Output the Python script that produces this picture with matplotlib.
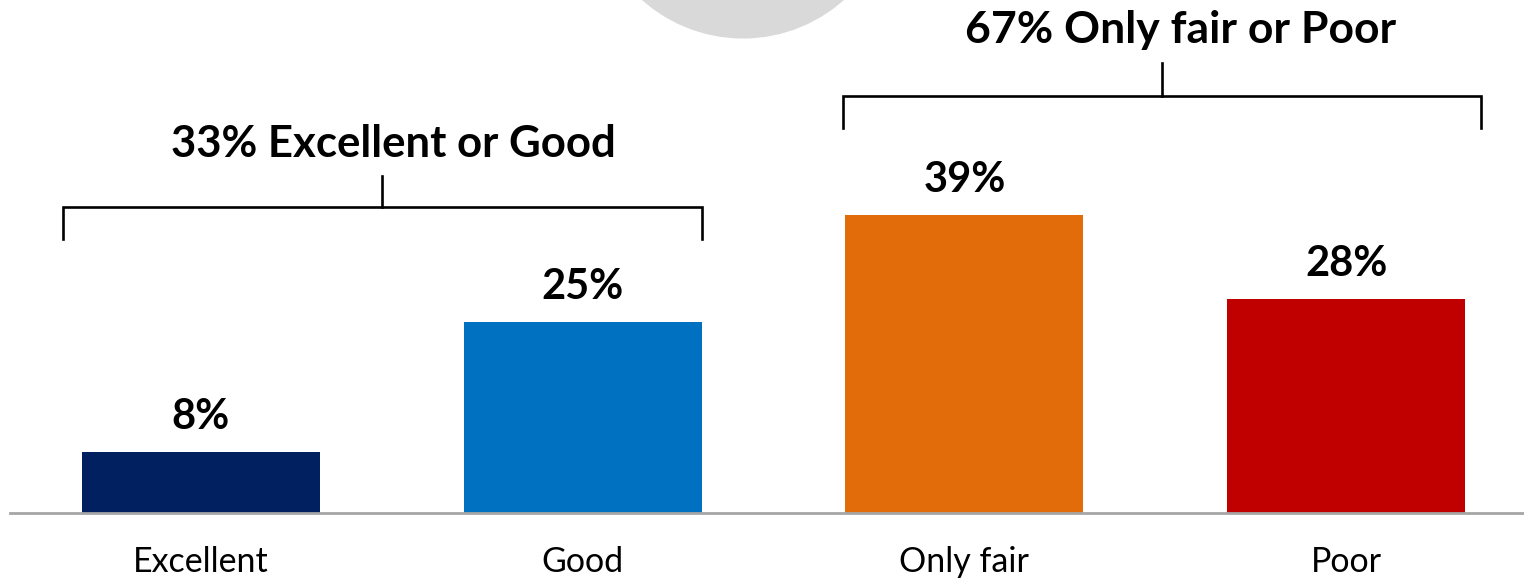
import matplotlib
matplotlib.use("Agg")
import matplotlib.pyplot as plt
from matplotlib.patches import Ellipse

categories = ["Excellent", "Good", "Only fair", "Poor"]
values = [8, 25, 39, 28]
colors = ["#002060", "#0070C0", "#E36C0A", "#C00000"]
group_labels = ["33% Excellent or Good", "67% Only fair or Poor"]

plt.rcParams['font.family'] = ['Lato', 'DejaVu Sans']

fig = plt.figure(figsize=(15.24, 5.8), dpi=100)
ax = fig.add_axes([10 / 1524, 67 / 580, 1 - 10 / 1524, 513 / 580])
ax.set_xlim(-0.5, 3.466)
ax.set_ylim(0, 67.1)

x = list(range(len(categories)))
ax.bar(x, values, width=0.624, color=colors, zorder=2)

for xi, v in zip(x, values):
    ax.text(xi, v + 3.0, f"{v}%", ha='center', va='baseline',
            fontsize=30, fontweight='bold', color='black')
    ax.text(xi, -7.72, categories[xi], ha='center', va='baseline',
            fontsize=24.5, color='black', clip_on=False)


# brackets over the two groups
def bracket(x0, x1, xm, y_bar, y_end, y_tick):
    ax.plot([x0, x0, x1, x1], [y_end, y_bar, y_bar, y_end], color='black',
            lw=1.9, clip_on=False, solid_joinstyle='miter')
    ax.plot([xm, xm], [y_bar, y_tick], color='black', lw=1.9, clip_on=False)


bracket(-0.362, 1.313, 0.474, 40.05, 35.9, 44.1)
bracket(1.682, 3.353, 2.518, 54.6, 50.4, 58.8)

ax.text(0.505, 46.5, group_labels[0], ha='center', va='baseline',
        fontsize=31.5, fontweight='bold', clip_on=False)
ax.text(2.567, 61.5, group_labels[1], ha='center', va='baseline',
        fontsize=32, fontweight='bold', clip_on=False)

# grey circle peeking in at the top
circle = Ellipse((1.42, 81.9), 0.791, 39.5, color='#D9D9D9', clip_on=False, zorder=0)
ax.add_patch(circle)

for side in ['top', 'right', 'left']:
    ax.spines[side].set_visible(False)
ax.spines['bottom'].set_color('#A6A6A6')
ax.spines['bottom'].set_linewidth(2)
ax.set_xticks([])
ax.set_yticks([])

fig.savefig("out.png", dpi=100)
